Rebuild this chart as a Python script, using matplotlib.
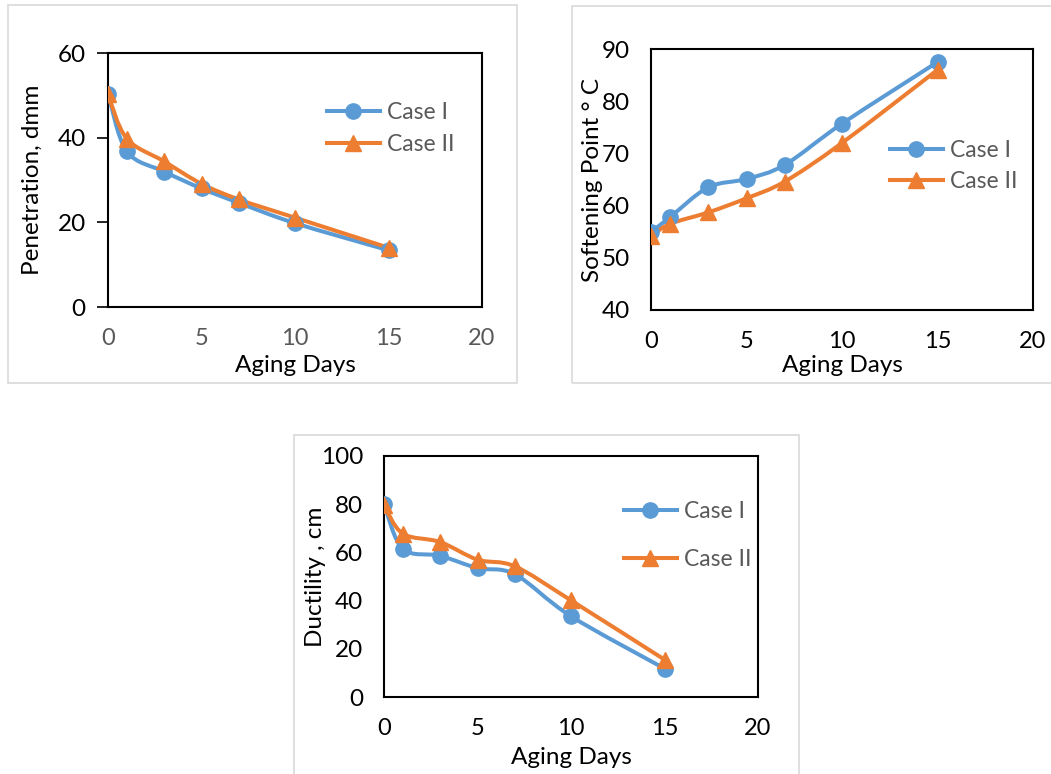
import numpy as np
import matplotlib.pyplot as plt
from matplotlib.path import Path
from matplotlib.patches import PathPatch, Rectangle
from matplotlib.lines import Line2D

# Data
days = [0, 1, 3, 5, 7, 10, 15]

pen_case1 = [50.4, 36.8, 32.0, 28.0, 24.6, 19.8, 13.4]
pen_case2 = [50.2, 39.8, 34.4, 29.1, 25.4, 21.1, 14.0]

soft_case1 = [54.9, 57.8, 63.5, 65.1, 67.8, 75.7, 87.5]
soft_case2 = [54.1, 56.5, 58.7, 61.4, 64.6, 72.0, 86.0]

duct_case1 = [80.2, 61.5, 58.6, 53.5, 50.9, 33.5, 11.8]
duct_case2 = [79.5, 67.8, 64.3, 57.0, 54.2, 40.1, 15.5]

series_labels = ["Case I", "Case II"]

BLUE = "#5B9BD5"
ORANGE = "#ED7D31"
GRAY = "#595959"

plt.rcParams["font.family"] = ["Lato", "DejaVu Sans"]

W, H = 1051, 774
fig = plt.figure(figsize=(W / 100, H / 100), dpi=100)


def px_rect(l, t, r, b):
    return [l / W, 1 - b / H, (r - l) / W, (b - t) / H]


def smooth_line(ax, x, y, color):
    # excel-like smoothed line (catmull-rom bezier segments)
    pts = np.column_stack([x, y]).astype(float)
    ext = np.vstack([pts[0], pts, pts[-1]])
    verts = [pts[0]]
    codes = [Path.MOVETO]
    for i in range(len(pts) - 1):
        p0, p1, p2, p3 = ext[i], ext[i + 1], ext[i + 2], ext[i + 3]
        verts += [p1 + (p2 - p0) / 6, p2 - (p3 - p1) / 6, p2]
        codes += [Path.CURVE4] * 3
    ax.add_patch(PathPatch(Path(verts, codes), facecolor="none", edgecolor=color,
                           lw=2.9, capstyle="round", joinstyle="round", zorder=3))


def draw_panel(rect, box, y1, y2, ylim, yticks, ylabel, ylabel_x, xlabel_y, leg_xy,
               leg_space, xtick_color="black", yticks_out=False):
    # light grey chart frame like excel
    l, t, r, b = box
    fig.patches.append(Rectangle((l / W, 1 - b / H), (r - l) / W, (b - t) / H,
                                 transform=fig.transFigure, fill=False,
                                 edgecolor="#D9D9D9", lw=1.2))
    ax = fig.add_axes(px_rect(*rect))
    smooth_line(ax, days, y1, BLUE)
    smooth_line(ax, days, y2, ORANGE)
    ax.plot(days, y1, "o", color=BLUE, ms=11, zorder=4)
    ax.plot(days, y2, "^", color=ORANGE, ms=12, zorder=5)
    ax.set_xlim(0, 20)
    ax.set_ylim(*ylim)
    ax.set_xticks([0, 5, 10, 15, 20])
    ax.set_yticks(yticks)
    for s in ax.spines.values():
        s.set_linewidth(1.5)
    ax.tick_params(axis="x", length=0, pad=15, labelsize=17, labelcolor=xtick_color)
    if yticks_out:
        ax.tick_params(axis="y", length=8, width=1.2, pad=8, labelsize=17.5)
    else:
        ax.tick_params(axis="y", length=0, pad=15, labelsize=17.5)
    ax.set_xlabel("Aging Days", fontsize=17.5)
    hgt = rect[3] - rect[1]
    ax.xaxis.set_label_coords(0.5, -(xlabel_y - rect[3]) / hgt)
    ax.set_ylabel(ylabel, fontsize=17.5)
    ax.yaxis.set_label_coords((ylabel_x - rect[0]) / (rect[2] - rect[0]), 0.5)
    handles = [Line2D([], [], color=BLUE, lw=2.9, marker="o", ms=11),
               Line2D([], [], color=ORANGE, lw=2.9, marker="^", ms=12)]
    leg = ax.legend(handles, series_labels, loc="center left",
                    bbox_to_anchor=(leg_xy[0] / W, 1 - leg_xy[1] / H),
                    bbox_transform=fig.transFigure, frameon=False, fontsize=16.5,
                    handlelength=2.3, handletextpad=0.3, borderpad=0,
                    borderaxespad=0, labelspacing=leg_space)
    for txt in leg.get_texts():
        txt.set_color(GRAY)
    return ax


draw_panel((108, 53, 482, 307), (8, 5, 517, 383), pen_case1, pen_case2,
           (0, 60), [0, 20, 40, 60], "Penetration, dmm", 43, 355, (327, 128.5), 0.45,
           xtick_color=GRAY, yticks_out=True)
draw_panel((651, 49, 1033, 310), (572, 6, 1060, 383), soft_case1, soft_case2,
           (40, 90), [40, 50, 60, 70, 80, 90], "Softening Point ° C", 603, 355,
           (890, 166), 0.45)
draw_panel((384, 456, 758, 697), (294, 435, 799, 790), duct_case1, duct_case2,
           (0, 100), [0, 20, 40, 60, 80, 100], "Ductility , cm", 326, 747,
           (624, 535.5), 1.2)

fig.savefig("out.png", dpi=100)
